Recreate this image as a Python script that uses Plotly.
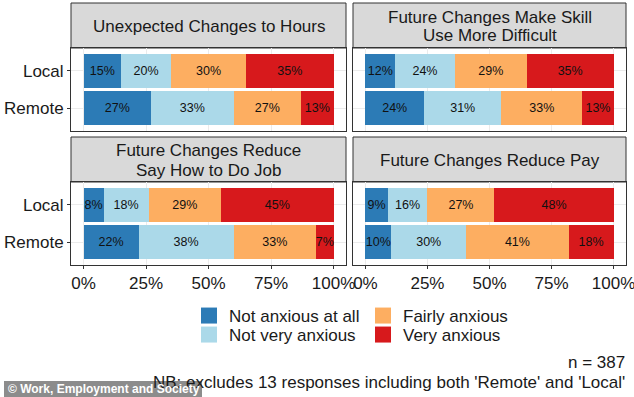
import plotly.graph_objects as go
from plotly.subplots import make_subplots

# ---------------- data ----------------
groups = ["Local", "Remote"]
levels = ["Not anxious at all", "Not very anxious", "Fairly anxious", "Very anxious"]
colors = ["#2c7bb6", "#abd9e9", "#fdae61", "#d7191c"]
titles = [
    ["Unexpected Changes to Hours"],
    ["Future Changes Make Skill", "Use More Difficult"],
    ["Future Changes Reduce", "Say How to Do Job"],
    ["Future Changes Reduce Pay"],
]

hours_local = [15, 20, 30, 35]
hours_remote = [27, 33, 27, 13]
skill_local = [12, 24, 29, 35]
skill_remote = [23.6, 31.2, 32.6, 12.6]
say_local = [8, 18, 29, 45]
say_remote = [22, 38, 33, 7]
pay_local = [9, 16, 27, 48]
pay_remote = [10.4, 30.2, 41.3, 18.1]

x_ticks = [0, 25, 50, 75, 100]
x_tick_labels = ["0%", "25%", "50%", "75%", "100%"]

panels = [
    (hours_local, hours_remote),
    (skill_local, skill_remote),
    (say_local, say_remote),
    (pay_local, pay_remote),
]

# ---------------- layout geometry ----------------
W, H = 634, 397
FONT = "Liberation Sans, Arial, sans-serif"
TXT = "#1a1a1a"
BORDER = "#333333"

def px_x(p):
    return p / W

def px_y(p):
    return 1 - p / H

col_x = [(71, 346), (353, 626)]
row_plot = [(48, 131), (182, 265)]
row_strip = [(3, 48), (137, 182)]

fig = make_subplots(rows=2, cols=2)

for i, (loc, rem) in enumerate(panels):
    r, c = i // 2 + 1, i % 2 + 1
    for k, lev in enumerate(levels):
        fig.add_trace(
            go.Bar(
                y=groups,
                x=[loc[k], rem[k]],
                orientation="h",
                marker=dict(color=colors[k], line=dict(width=0)),
                texttemplate="%{x:.0f}%",
                textposition="inside",
                insidetextanchor="middle",
                textangle=0,
                constraintext="none",
                textfont=dict(family=FONT, size=12.5, color="#111111"),
                showlegend=False,
                hoverinfo="skip",
            ),
            row=r, col=c,
        )

# legend entries: one legend per cell of the 2x2 key grid
legend_ids = ["legend", "legend3", "legend2", "legend4"]
for k, lev in enumerate(levels):
    fig.add_trace(
        go.Scatter(
            x=[None], y=[None], mode="markers",
            marker=dict(symbol="square", size=16, color=colors[k]),
            name=lev,
            legend=legend_ids[k],
            showlegend=True,
        ),
        row=1, col=1,
    )

axis_names = [("xaxis", "yaxis"), ("xaxis2", "yaxis2"), ("xaxis3", "yaxis3"), ("xaxis4", "yaxis4")]
for i, (xa, ya) in enumerate(axis_names):
    ri, ci = i // 2, i % 2
    x0, x1 = col_x[ci]
    y0, y1 = row_plot[ri]
    bottom = ri == 1
    left = ci == 0
    fig.layout[xa].update(
        domain=[px_x(x0), px_x(x1)],
        range=[-5, 105],
        tickvals=x_ticks,
        ticktext=x_tick_labels,
        showgrid=True, gridcolor="#ebebeb", gridwidth=1,
        zeroline=False,
        showline=True, mirror=True, linecolor=BORDER, linewidth=1,
        ticks="outside" if bottom else "",
        ticklen=3, tickcolor=BORDER,
        showticklabels=bottom,
        ticklabeloverflow="allow",
        tickfont=dict(family=FONT, size=17, color=TXT),
        fixedrange=True,
    )
    fig.layout[ya].update(
        domain=[px_y(y1), px_y(y0)],
        categoryorder="array",
        categoryarray=["Remote", "Local"],
        range=[-0.6, 1.6],
        showgrid=True, gridcolor="#ebebeb", gridwidth=1,
        zeroline=False,
        showline=True, mirror=True, linecolor=BORDER, linewidth=1,
        ticks="outside" if left else "",
        ticklen=3, tickcolor=BORDER,
        showticklabels=left,
        tickfont=dict(family=FONT, size=17, color=TXT),
        fixedrange=True,
    )
    # strip
    s0, s1 = row_strip[ri]
    fig.add_shape(
        type="rect", xref="paper", yref="paper",
        x0=px_x(x0), x1=px_x(x1), y0=px_y(s1), y1=px_y(s0),
        fillcolor="#d9d9d9", line=dict(color=BORDER, width=1), layer="below",
    )
    lines = titles[i]
    mid = (s0 + s1) / 2 + 1
    offs = [0] if len(lines) == 1 else [-9.5, 9.5]
    for line, off in zip(lines, offs):
        fig.add_annotation(
            xref="paper", yref="paper",
            x=px_x((x0 + x1) / 2), y=px_y(mid + off),
            text=line, showarrow=False,
            font=dict(family=FONT, size=17, color=TXT),
            xanchor="center", yanchor="middle", align="center",
        )

# notes
fig.add_annotation(
    xref="paper", yref="paper", x=px_x(627), y=px_y(362),
    text="n = 387", showarrow=False, xanchor="right", yanchor="middle",
    font=dict(family=FONT, size=17, color=TXT),
)
fig.add_annotation(
    xref="paper", yref="paper", x=px_x(627), y=px_y(382),
    text="NB: excludes 13 responses including both 'Remote' and 'Local'",
    showarrow=False, xanchor="right", yanchor="middle",
    font=dict(family=FONT, size=17, color=TXT),
)

# watermark
fig.add_shape(
    type="rect", xref="paper", yref="paper",
    x0=px_x(4), x1=px_x(202), y0=0, y1=px_y(381),
    fillcolor="rgba(120,120,120,0.85)", line=dict(width=0), layer="above",
)
fig.add_annotation(
    xref="paper", yref="paper", x=px_x(6), y=px_y(389),
    text="<b>© Work, Employment and Society</b>", showarrow=False,
    xanchor="left", yanchor="middle",
    font=dict(family=FONT, size=12, color="white"),
)

def leg(xp, yp):
    return dict(
        orientation="v", xanchor="left", yanchor="middle",
        x=px_x(xp), y=px_y(yp),
        font=dict(family=FONT, size=17, color=TXT),
        bgcolor="rgba(0,0,0,0)", itemsizing="trace",
        borderwidth=0, traceorder="normal",
    )

fig.update_layout(
    width=W, height=H,
    margin=dict(l=0, r=0, t=0, b=0, autoexpand=False),
    paper_bgcolor="white", plot_bgcolor="white",
    barmode="stack", bargap=0.1,
    font=dict(family=FONT, color=TXT),
    legend=leg(189, 316),
    legend3=leg(189, 335),
    legend2=leg(363, 316),
    legend4=leg(363, 335),
)

fig.write_html(
    "out.html",
    config={"displayModeBar": False},
    post_script="document.body.style.margin='0';",
)
